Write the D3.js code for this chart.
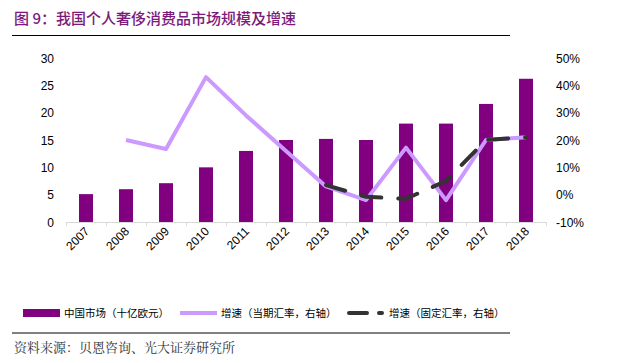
<!DOCTYPE html>
<html>
<head>
<meta charset="utf-8">
<style>
  body { margin: 0; background: #fff; }
  svg { display: block; font-family: "Liberation Sans", Arial, sans-serif; }
</style>
</head>
<body>
<svg width="634" height="363"></svg>
<script src="https://d3js.org/d3.v7.min.js"></script>
<script>

// data
const years = ["2007","2008","2009","2010","2011","2012","2013","2014","2015","2016","2017","2018"];
const market = [5.1, 6, 7.1, 10, 13, 15, 15.2, 15, 18, 18, 21.6, 26.2];          // 十亿欧元
const growthCurrent = [null, 20, 16.7, 43, 29, 16, 3, -2, 17.2, -2, 20, 21];    // %
const growthConstant = [null, null, null, null, null, null, 3.5, -0.8, -1.5, 5, 20, 21];
const leftTicks = [0, 5, 10, 15, 20, 25, 30];
const rightTicks = [-10, 0, 10, 20, 30, 40, 50];

const svg = d3.select("svg");
const cjk = '"Noto Sans CJK SC", sans-serif';

const x = d3.scaleBand().domain(years).range([66, 546]).paddingInner(0.65).paddingOuter(0.325);
const xBand = d3.scaleBand().domain(years).range([66, 546]);
const yL = d3.scaleLinear().domain([0, 30]).range([222, 58]);
const yR = d3.scaleLinear().domain([-10, 50]).range([222, 58]);

// title
svg.append("text")
  .attr("x", 14).attr("y", 24)
  .attr("fill", "#7b1a7b")
  .style("font-family", cjk)
  .style("font-size", "15px")
  .style("font-weight", "500")
  .text("图 9：我国个人奢侈消费品市场规模及增速");

svg.append("line").attr("x1", 12).attr("x2", 510).attr("y1", 35.5).attr("y2", 35.5)
  .attr("stroke", "#000").attr("stroke-width", 1.2);

// left axis labels
svg.append("g").selectAll("text").data(leftTicks).join("text")
  .attr("x", 54).attr("y", d => yL(d) + 4.5)
  .attr("text-anchor", "end")
  .style("font-size", "12px")
  .attr("fill", "#000")
  .text(d => d);

// right axis labels
svg.append("g").selectAll("text").data(rightTicks).join("text")
  .attr("x", 556).attr("y", d => yR(d) + 4.5)
  .style("font-size", "12px")
  .attr("fill", "#000")
  .text(d => d + "%");

// bars
svg.append("g").selectAll("rect").data(market).join("rect")
  .attr("x", (d, i) => x(years[i]))
  .attr("width", x.bandwidth())
  .attr("y", d => yL(d))
  .attr("height", d => yL(0) - yL(d))
  .attr("fill", "#800080");

// x axis
const xAxis = svg.append("g");
xAxis.append("line").attr("x1", 66).attr("x2", 546).attr("y1", 222.5).attr("y2", 222.5)
  .attr("stroke", "#d9d9d9");
xAxis.selectAll(".tk").data(years.concat(["end"])).join("line")
  .attr("x1", (d, i) => 66.5 + i * xBand.bandwidth())
  .attr("x2", (d, i) => 66.5 + i * xBand.bandwidth())
  .attr("y1", 222).attr("y2", 226)
  .attr("stroke", "#d9d9d9");
xAxis.selectAll("text").data(years).join("text")
  .attr("transform", d => "translate(" + (xBand(d) + xBand.bandwidth() / 2 + 4) + ",232) rotate(-45)")
  .attr("text-anchor", "end")
  .style("font-size", "12px")
  .attr("fill", "#000")
  .text(d => d);

const cx = i => xBand(years[i]) + xBand.bandwidth() / 2;

// current-rate growth line
const lineCur = d3.line()
  .defined(d => d != null)
  .x((d, i) => cx(i))
  .y(d => yR(d));
svg.append("path").datum(growthCurrent)
  .attr("d", lineCur)
  .attr("fill", "none")
  .attr("stroke", "#cc99ff")
  .attr("stroke-width", 4)
  .attr("stroke-linejoin", "round");

// constant-rate growth line
svg.append("path").datum(growthConstant)
  .attr("d", lineCur)
  .attr("fill", "none")
  .attr("stroke", "#333333")
  .attr("stroke-width", 4)
  .attr("stroke-linecap", "round")
  .attr("stroke-dasharray", "20,17");

// legend
const lg = svg.append("g").style("font-family", cjk).style("font-size", "10.5px").attr("fill", "#000");
lg.append("rect").attr("x", 23).attr("y", 309).attr("width", 37).attr("height", 8).attr("fill", "#800080");
lg.append("text").attr("x", 64).attr("y", 317).text("中国市场（十亿欧元）");
lg.append("line").attr("x1", 180).attr("x2", 217).attr("y1", 313).attr("y2", 313)
  .attr("stroke", "#cc99ff").attr("stroke-width", 4);
lg.append("text").attr("x", 221).attr("y", 317).text("增速（当期汇率，右轴）");
lg.append("line").attr("x1", 349).attr("x2", 382).attr("y1", 313).attr("y2", 313)
  .attr("stroke", "#333").attr("stroke-width", 4).attr("stroke-linecap", "round")
  .attr("stroke-dasharray", "18,12");
lg.append("text").attr("x", 389).attr("y", 317).text("增速（固定汇率，右轴）");

svg.append("line").attr("x1", 12).attr("x2", 510).attr("y1", 333).attr("y2", 333)
  .attr("stroke", "#000").attr("stroke-width", 1);

svg.append("text")
  .attr("x", 14).attr("y", 352)
  .style("font-family", '"Noto Serif CJK SC", ' + cjk)
  .style("font-size", "13px")
  .attr("fill", "#333")
  .text("资料来源：贝恩咨询、光大证券研究所");

</script>
</body>
</html>
